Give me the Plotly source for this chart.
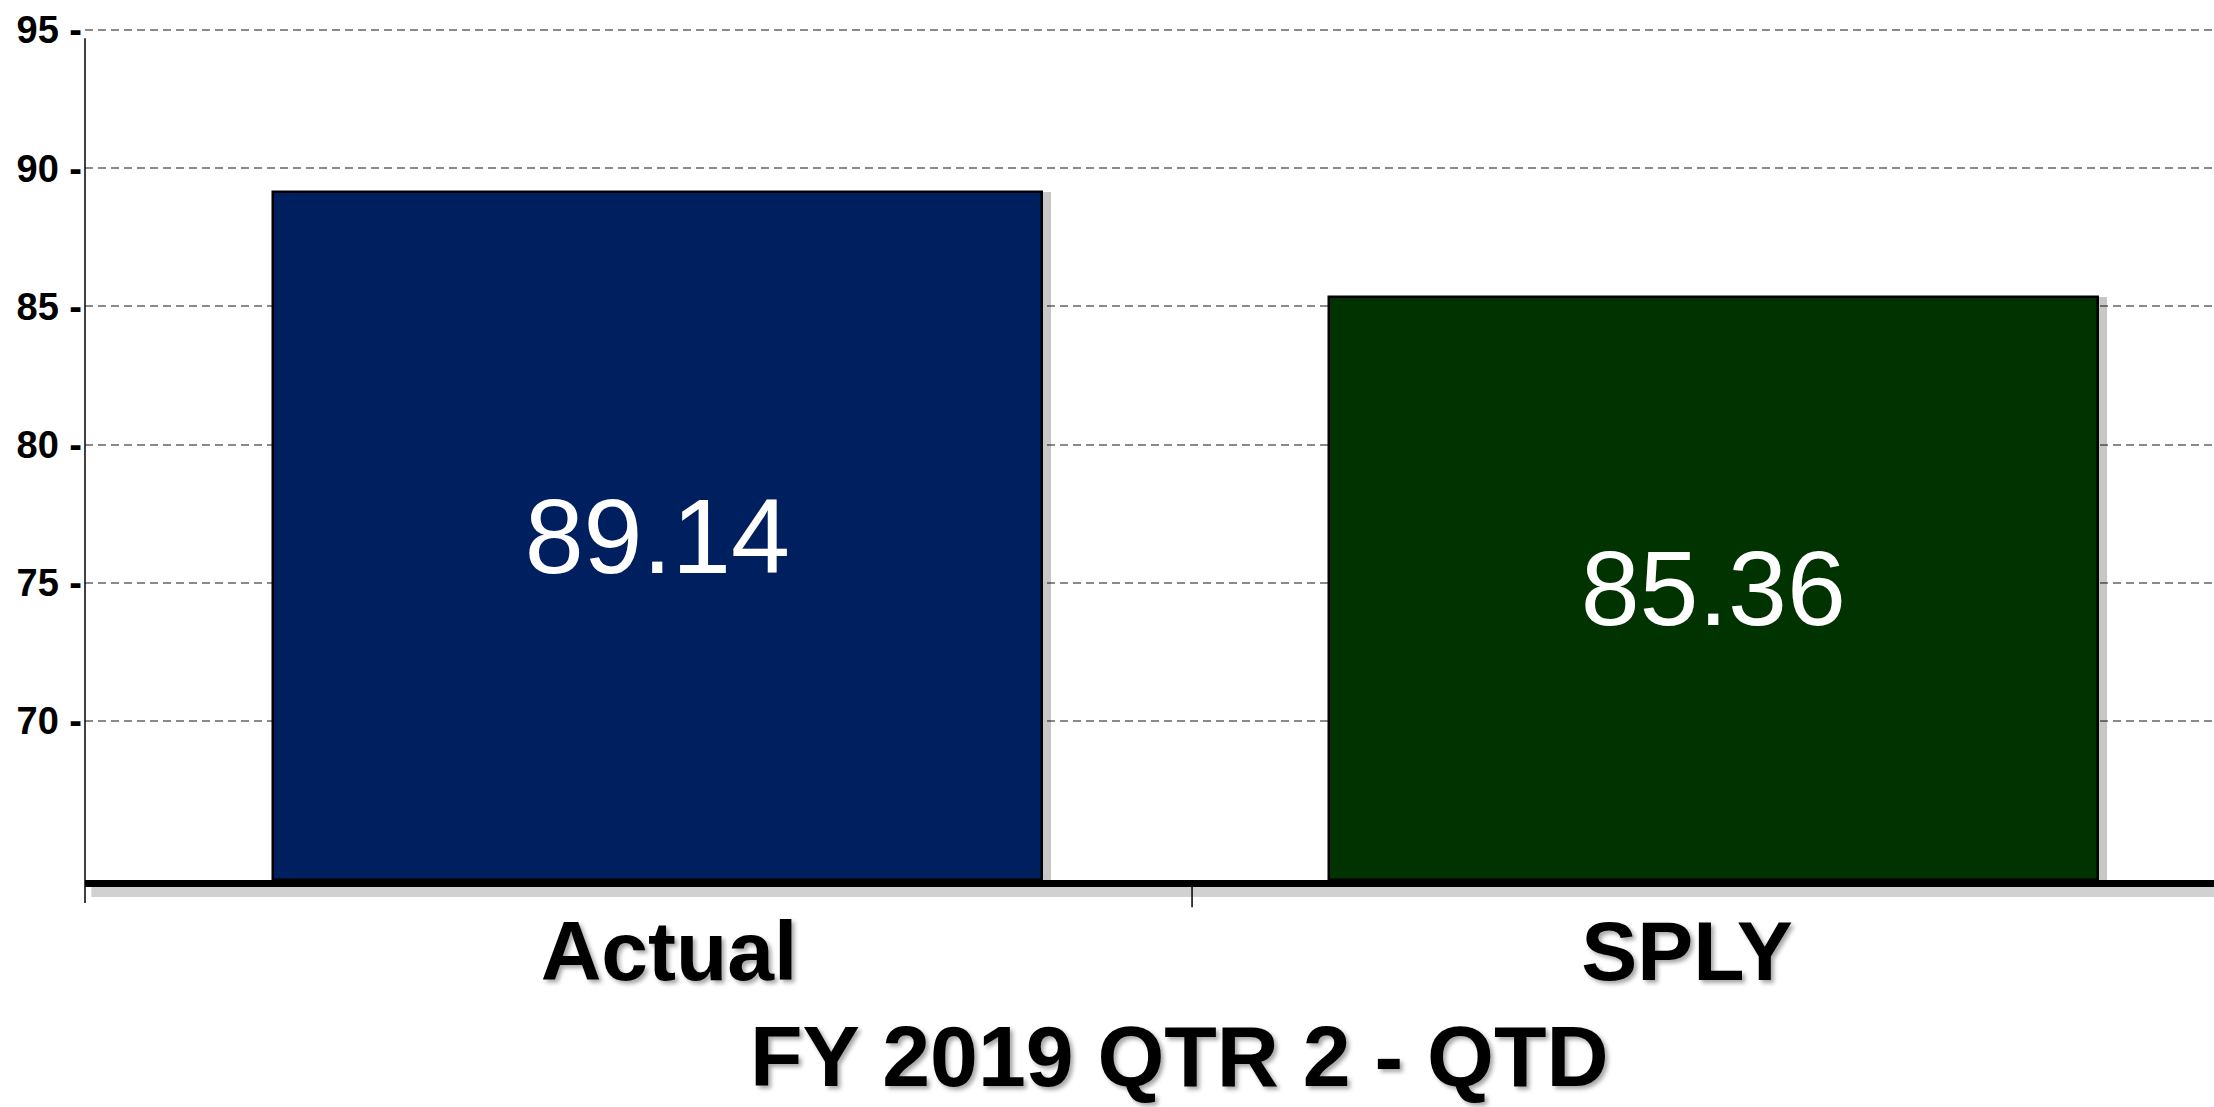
import plotly.graph_objects as go

categories = ["Actual", "SPLY"]
values = [89.14, 85.36]
bar_colors = ["#001F5F", "#003300"]
y_ticks = [70, 75, 80, 85, 90, 95]
y_tick_text = [f"{v} -" for v in y_ticks]
title_text = "FY 2019 QTR 2 - QTD"

FONT = "Liberation Sans, Arial, sans-serif"
Y_RANGE = [64.25, 95.04]
X_RANGE = [-0.5737, 1.5177]
BAR_W = 0.7554
BAR_OFFSETS = [-0.389, -0.3517]
SHADOW_SHIFT = 0.0088
SHADOW = "3px 3px 4px rgba(0,0,0,0.35)"

fig = go.Figure()

# soft drop shadow behind bars
fig.add_trace(go.Bar(
    x=categories, y=[v - Y_RANGE[0] for v in values], base=Y_RANGE[0],
    width=BAR_W, offset=[o + SHADOW_SHIFT for o in BAR_OFFSETS],
    marker=dict(color="rgba(0,0,0,0.22)", line=dict(width=0)),
    hoverinfo="skip", showlegend=False,
))

fig.add_trace(go.Bar(
    x=categories, y=[v - Y_RANGE[0] for v in values], base=Y_RANGE[0],
    width=BAR_W, offset=BAR_OFFSETS,
    marker=dict(color=bar_colors, line=dict(color="black", width=2.5)),
    text=[f"{v:.2f}" for v in values],
    textposition="inside", insidetextanchor="middle", textangle=0,
    textfont=dict(family=FONT, size=106, color="white"),
    hovertext=[f"{c}: {v:.2f}" for c, v in zip(categories, values)],
    hoverinfo="text", showlegend=False,
))

fig.update_layout(
    width=2214, height=1107,
    margin=dict(l=85, r=0, t=29, b=227),
    paper_bgcolor="white", plot_bgcolor="white",
    barmode="overlay", bargap=0,
    xaxis=dict(
        range=X_RANGE, showgrid=False, zeroline=False,
        showline=True, linecolor="black", linewidth=7,
        ticks="", tickfont=dict(family=FONT, size=84, color="black", weight="bold", shadow=SHADOW),
        ticklabelstandoff=-8,
    ),
    yaxis=dict(
        range=Y_RANGE, tickvals=y_ticks, ticktext=y_tick_text,
        showgrid=True, gridcolor="#8a8a8a", gridwidth=1.5, griddash="8px,5px",
        zeroline=False, showline=False, ticks="",
        tickfont=dict(family=FONT, size=38, color="black", weight="bold"),
        ticklabelstandoff=2,
    ),
    annotations=[dict(
        text=title_text, xref="paper", yref="paper", x=0.514, y=-0.207,
        xanchor="center", yanchor="middle", showarrow=False,
        font=dict(family=FONT, size=86, color="black", weight="bold", shadow=SHADOW),
    )],
    shapes=[
        # y-axis line extending below the baseline
        dict(type="line", xref="paper", yref="paper", x0=0, x1=0, y0=-0.027, y1=0.989,
             line=dict(color="black", width=1.5)),
        # category divider tick
        dict(type="line", xref="x", yref="paper", x0=0.5138, x1=0.5138, y0=-0.006, y1=-0.032,
             line=dict(color="black", width=1.5)),
        # shadow under the baseline
        dict(type="rect", xref="paper", yref="paper", x0=0.003, x1=1, y0=-0.006, y1=-0.020,
             fillcolor="rgba(0,0,0,0.18)", line=dict(width=0), layer="below"),
    ],
)

fig.write_html(
    "out.html",
    config={"displayModeBar": False},
    post_script="document.body.style.margin='0';document.body.style.overflow='hidden';",
)
